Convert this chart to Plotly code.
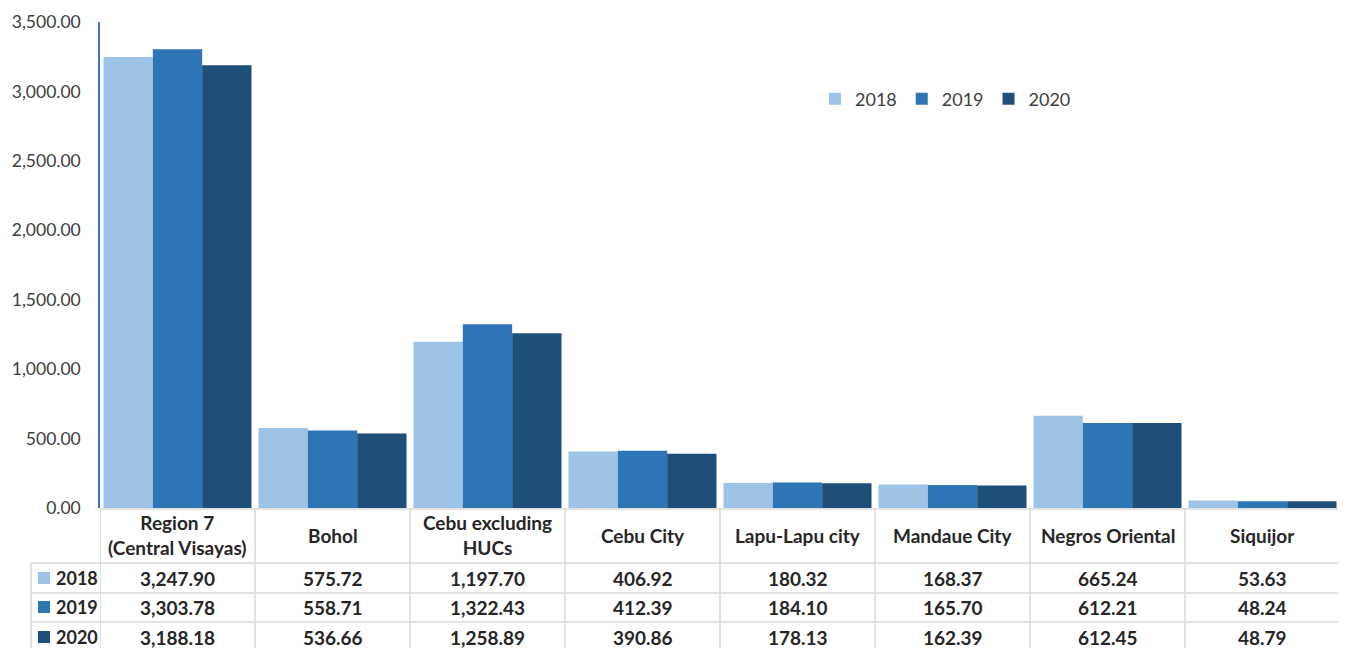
import plotly.graph_objects as go

categories = ["Region 7<br>(Central Visayas)", "Bohol", "Cebu excluding<br>HUCs", "Cebu City",
              "Lapu-Lapu city", "Mandaue City", "Negros Oriental", "Siquijor"]
years = ["2018", "2019", "2020"]
v2018 = [3247.90, 575.72, 1197.70, 406.92, 180.32, 168.37, 665.24, 53.63]
v2019 = [3303.78, 558.71, 1322.43, 412.39, 184.10, 165.70, 612.21, 48.24]
v2020 = [3188.18, 536.66, 1258.89, 390.86, 178.13, 162.39, 612.45, 48.79]
series = [v2018, v2019, v2020]
colors = ["#9DC3E6", "#2E75B6", "#1F4E79"]

OFF = 8  # page body offset
W, H = 1346 - OFF, 648 - OFF
ML, MR, MT, MB = 100 - OFF, 6, 22 - OFF, 140
PH = H - MT - MB
PW = W - ML - MR
FONT = "Lato"

def py(p):  # reference pixel y -> paper y
    return (H - MB - (p - OFF)) / PH

def px(p):  # reference pixel x -> paper x
    return (p - OFF - ML) / PW

xs = list(range(len(categories)))
fig = go.Figure()
for y, vals, c in zip(years, series, colors):
    fig.add_trace(go.Bar(x=xs, y=vals, name=y, marker=dict(color=c, line=dict(width=0))))

shapes = []
annotations = []
grid = "#D9D9D9"
n = len(categories)
for i in range(n + 1):
    shapes.append(dict(type="line", xref="x", yref="paper", x0=i - 0.5, x1=i - 0.5,
                       y0=py(508), y1=py(660), line=dict(color=grid, width=1.5)))
shapes.append(dict(type="line", xref="paper", yref="paper", x0=px(31), x1=px(31),
                   y0=py(563), y1=py(660), line=dict(color=grid, width=1.5)))
shapes.append(dict(type="line", xref="x", yref="paper", x0=-0.5, x1=n - 0.5,
                   y0=py(509), y1=py(509), line=dict(color=grid, width=1.5)))
for yy in [563, 593, 622]:
    shapes.append(dict(type="line", xref="paper", yref="paper", x0=px(31), x1=1,
                       y0=py(yy), y1=py(yy), line=dict(color=grid, width=1.5)))

TF = dict(family=FONT, size=19, color="#262626")
RF = dict(family=FONT, size=18, color="#262626")
for i, cat in enumerate(categories):
    annotations.append(dict(x=i, y=py(535), xref="x", yref="paper", text=f"<b>{cat}</b>",
                            showarrow=False, font=TF, xanchor="center", yanchor="middle"))
row_centers = [578, 607, 637]
for r, (y, vals, c) in enumerate(zip(years, series, colors)):
    yc = row_centers[r]
    shapes.append(dict(type="rect", xref="paper", yref="paper", x0=px(38), x1=px(50),
                       y0=py(yc - 6), y1=py(yc + 6), fillcolor=c, line=dict(width=0)))
    annotations.append(dict(x=px(54), y=py(yc), xref="paper", yref="paper", text=f"<b>{y}</b>",
                            showarrow=False, font=RF, xanchor="left", yanchor="middle"))
    for i, v in enumerate(vals):
        annotations.append(dict(x=i, y=py(yc), xref="x", yref="paper", text=f"<b>{v:,.2f}</b>",
                                showarrow=False, font=TF, xanchor="center", yanchor="middle"))

fig.update_layout(
    width=W, height=H,
    margin=dict(l=ML, r=MR, t=MT, b=MB, autoexpand=False),
    plot_bgcolor="white", paper_bgcolor="white",
    barmode="group", bargap=0.045, bargroupgap=0,
    font=dict(family=FONT, size=18, color="#404040"),
    showlegend=True,
    legend=dict(orientation="h", x=px(815), y=py(99), xanchor="left", yanchor="middle",
                font=dict(family=FONT, size=18, color="#404040"), itemwidth=30,
                bgcolor="rgba(0,0,0,0)"),
    xaxis=dict(range=[-0.5, n - 0.5], showticklabels=False, showgrid=False, zeroline=False,
               showline=False, ticks="", automargin=False),
    yaxis=dict(range=[0, 3500], dtick=500, tickformat=",.2f", showgrid=False, zeroline=False,
               showline=True, linecolor="#4472C4", linewidth=1.5, ticks="", automargin=False,
               ticklabelstandoff=14, tickfont=dict(family=FONT, size=17.5, color="#404040")),
    shapes=shapes, annotations=annotations,
)
fig.write_html("out.html")
